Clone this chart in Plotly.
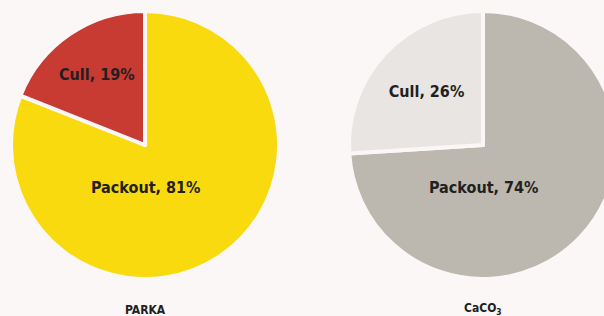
import plotly.graph_objects as go

labels = ["Packout", "Cull"]
parka_values = [81, 19]
caco3_values = [74, 26]
group_titles = ["PARKA", "CaCO<sub>3</sub>"]

BG = "#faf7f6"
TXT = "#231f20"
FONT = "DejaVu Sans Condensed, Roboto, sans-serif"
W, H = 617, 316
R = 134
centers = [(145, 145), (483, 145)]

def dom(cx, cy, r):
    return dict(x=[(cx - r) / W, min(1, (cx + r) / W)], y=[1 - (cy + r) / H, 1 - (cy - r) / H])

fig = go.Figure()
for vals, cols, (cx, cy) in zip([parka_values, caco3_values],
                                [["#f8da0f", "#c83b33"], ["#bcb8b0", "#e8e5e2"]], centers):
    fig.add_trace(go.Pie(
        labels=labels, values=vals, sort=False, direction="clockwise", rotation=0,
        marker=dict(colors=cols, line=dict(color=BG, width=4)),
        texttemplate=["", "<b>%{label}, %{value}%</b>"], textposition="inside",
        insidetextorientation="horizontal",
        textfont=dict(family=FONT, size=16, color=TXT),
        domain=dom(cx, cy, R), showlegend=False, hoverinfo="label+percent",
    ))
    fig.add_annotation(x=cx / W, y=1 - (cy + 42) / H, xref="paper", yref="paper",
                       xanchor="center", yanchor="middle",
                       text=f"<b>{labels[0]}, {vals[0]}%</b>", showarrow=False,
                       font=dict(family=FONT, size=16, color=TXT))

for (cx, cy), t in zip(centers, group_titles):
    fig.add_annotation(x=cx / W, y=0, xref="paper", yref="paper", xanchor="center", yanchor="bottom",
                       yshift=-3, text=f"<b>{t}</b>", showarrow=False,
                       font=dict(family=FONT, size=12, color=TXT))

fig.update_layout(
    width=W, height=H, margin=dict(l=0, r=0, t=0, b=0),
    paper_bgcolor=BG, plot_bgcolor=BG,
)
fig.write_html("out.html", config={"displayModeBar": False},
               post_script="document.body.style.margin='0';document.body.style.overflow='hidden';document.body.style.background='%s';" % BG)
